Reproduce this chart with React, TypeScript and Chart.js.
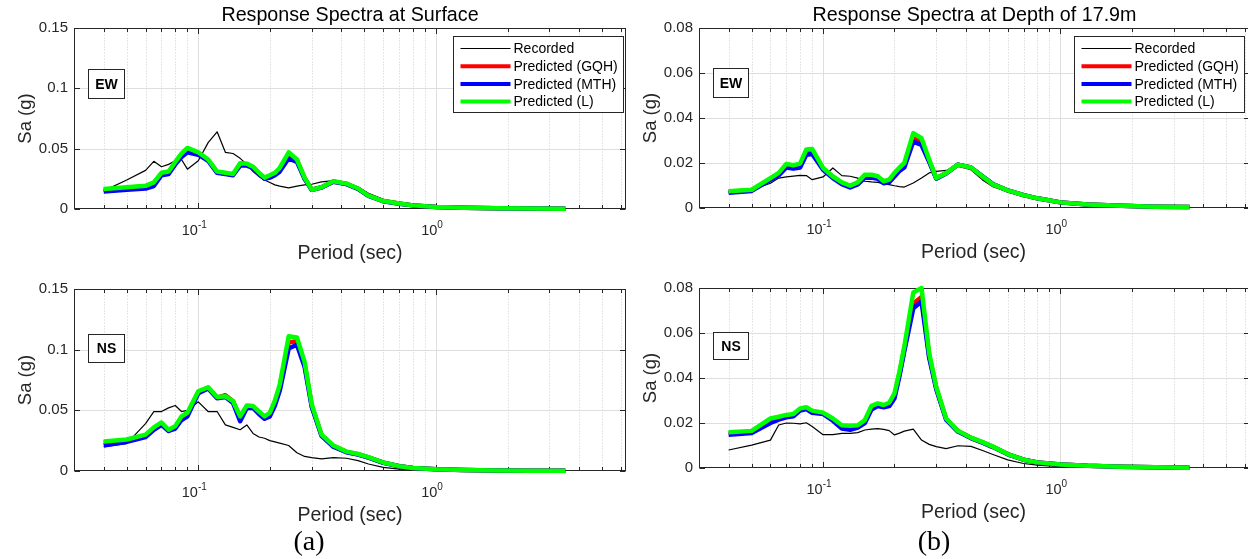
import React, { useEffect, useRef } from 'react';
import { Chart, registerables } from 'chart.js';

Chart.register(...registerables);

// ---------- data ----------
const periods = [0.04, 0.05, 0.06, 0.065, 0.07, 0.075, 0.08, 0.085, 0.09, 0.1, 0.11, 0.12, 0.13, 0.14, 0.15, 0.16, 0.17, 0.18, 0.19, 0.2, 0.21, 0.22, 0.24, 0.26, 0.28, 0.3, 0.33, 0.37, 0.42, 0.47, 0.52, 0.6, 0.7, 0.8, 1.0, 1.3, 1.8, 2.5, 3.5];

const seriesNames = ['Recorded', 'Predicted (GQH)', 'Predicted (MTH)', 'Predicted (L)'];

// Surface, EW
const surfEwRecorded = [0.015, 0.024, 0.032, 0.0395, 0.035, 0.037, 0.040, 0.041, 0.033, 0.040, 0.055, 0.064, 0.047, 0.046, 0.042, 0.037, 0.031, 0.027, 0.024, 0.022, 0.020, 0.019, 0.0175, 0.019, 0.020, 0.0205, 0.0225, 0.0235, 0.022, 0.018, 0.013, 0.008, 0.0048, 0.003, 0.0012, 0.0007, 0.0004, 0.0003, 0.0002];
const surfEwGQH = [0.016, 0.0175, 0.0188, 0.0215, 0.0295, 0.0305, 0.038, 0.045, 0.049, 0.046, 0.0405, 0.0305, 0.0295, 0.0285, 0.0375, 0.037, 0.0345, 0.0295, 0.0255, 0.0275, 0.0295, 0.033, 0.0455, 0.0405, 0.0255, 0.016, 0.018, 0.0228, 0.0208, 0.0168, 0.011, 0.0066, 0.0045, 0.003, 0.0017, 0.0011, 0.0006, 0.0004, 0.0002];
const surfEwMTH = [0.0145, 0.016, 0.017, 0.019, 0.028, 0.029, 0.037, 0.043, 0.047, 0.045, 0.040, 0.030, 0.029, 0.028, 0.036, 0.036, 0.034, 0.029, 0.025, 0.026, 0.028, 0.031, 0.042, 0.039, 0.025, 0.016, 0.0178, 0.0226, 0.0206, 0.0167, 0.0108, 0.0065, 0.0044, 0.003, 0.0017, 0.0011, 0.0006, 0.0004, 0.0002];
const surfEwL = [0.0166, 0.018, 0.0192, 0.022, 0.030, 0.031, 0.039, 0.046, 0.0506, 0.047, 0.041, 0.031, 0.030, 0.029, 0.038, 0.0376, 0.035, 0.030, 0.026, 0.028, 0.030, 0.034, 0.047, 0.041, 0.026, 0.016, 0.018, 0.023, 0.021, 0.017, 0.011, 0.0066, 0.0045, 0.003, 0.0017, 0.0011, 0.0006, 0.0004, 0.0002];

// Surface, NS
const surfNsRecorded = [0.020, 0.0225, 0.039, 0.049, 0.049, 0.052, 0.054, 0.049, 0.050, 0.057, 0.049, 0.049, 0.038, 0.036, 0.034, 0.038, 0.031, 0.028, 0.027, 0.025, 0.024, 0.023, 0.021, 0.015, 0.012, 0.011, 0.010, 0.011, 0.0105, 0.0085, 0.0058, 0.003, 0.0015, 0.001, 0.0006, 0.0004, 0.0003, 0.0002, 0.0001];
const surfNsGQH = [0.0235, 0.0255, 0.029, 0.035, 0.039, 0.0335, 0.036, 0.044, 0.047, 0.065, 0.0685, 0.0605, 0.0625, 0.0575, 0.044, 0.053, 0.053, 0.0485, 0.0445, 0.047, 0.057, 0.069, 0.106, 0.107, 0.088, 0.054, 0.0295, 0.0205, 0.0158, 0.0138, 0.0113, 0.0069, 0.004, 0.0025, 0.0014, 0.0009, 0.0005, 0.0003, 0.0002];
const surfNsMTH = [0.021, 0.024, 0.028, 0.034, 0.038, 0.033, 0.035, 0.042, 0.045, 0.064, 0.068, 0.060, 0.061, 0.056, 0.041, 0.052, 0.052, 0.047, 0.043, 0.045, 0.054, 0.066, 0.101, 0.104, 0.086, 0.053, 0.029, 0.020, 0.0155, 0.0135, 0.011, 0.0068, 0.0039, 0.0024, 0.0014, 0.0009, 0.0005, 0.0003, 0.0002];
const surfNsL = [0.0243, 0.026, 0.030, 0.036, 0.040, 0.034, 0.037, 0.045, 0.048, 0.0657, 0.069, 0.061, 0.0616, 0.0575, 0.045, 0.054, 0.0535, 0.049, 0.045, 0.048, 0.058, 0.071, 0.111, 0.110, 0.090, 0.055, 0.030, 0.021, 0.016, 0.014, 0.0115, 0.007, 0.004, 0.0025, 0.0014, 0.0009, 0.0005, 0.0003, 0.0002];

// Depth 17.9 m, EW
const depthEwRecorded = [0.007, 0.008, 0.011, 0.0133, 0.0138, 0.0142, 0.0145, 0.0144, 0.0126, 0.0138, 0.0178, 0.0144, 0.0141, 0.0133, 0.0119, 0.0116, 0.0114, 0.0108, 0.0104, 0.0099, 0.0095, 0.0093, 0.0111, 0.0133, 0.0156, 0.0163, 0.0167, 0.019, 0.017, 0.0125, 0.0095, 0.0072, 0.0054, 0.004, 0.0024, 0.0015, 0.0009, 0.0005, 0.0003];
const depthEwGQH = [0.0072, 0.0079, 0.013, 0.0152, 0.019, 0.0185, 0.0192, 0.025, 0.0255, 0.0175, 0.0138, 0.0112, 0.0097, 0.0112, 0.0145, 0.0145, 0.0138, 0.0117, 0.0123, 0.015, 0.0172, 0.0192, 0.031, 0.0295, 0.021, 0.0132, 0.0154, 0.0192, 0.0179, 0.014, 0.0105, 0.0078, 0.0057, 0.0043, 0.0025, 0.0016, 0.001, 0.0006, 0.0004];
const depthEwMTH = [0.0068, 0.0076, 0.0125, 0.0145, 0.018, 0.0175, 0.018, 0.0237, 0.024, 0.017, 0.0133, 0.0106, 0.0091, 0.0105, 0.0135, 0.0135, 0.013, 0.011, 0.0115, 0.014, 0.0165, 0.018, 0.0295, 0.028, 0.0205, 0.013, 0.0153, 0.0193, 0.018, 0.0141, 0.0106, 0.0078, 0.0057, 0.0043, 0.0025, 0.0016, 0.001, 0.0006, 0.0004];
const depthEwL = [0.0074, 0.0081, 0.0133, 0.0156, 0.0196, 0.019, 0.0197, 0.026, 0.0262, 0.0178, 0.014, 0.0114, 0.0099, 0.0114, 0.0148, 0.0148, 0.0141, 0.0119, 0.0126, 0.0156, 0.018, 0.020, 0.0333, 0.031, 0.0215, 0.0133, 0.0155, 0.0193, 0.018, 0.014, 0.0105, 0.0078, 0.0057, 0.0043, 0.0025, 0.0016, 0.001, 0.0006, 0.0004];

// Depth 17.9 m, NS
const depthNsRecorded = [0.008, 0.0102, 0.0124, 0.0191, 0.020, 0.0199, 0.0196, 0.0201, 0.0184, 0.0148, 0.0148, 0.0154, 0.0154, 0.0157, 0.0169, 0.0173, 0.0175, 0.0172, 0.0166, 0.0147, 0.0155, 0.0164, 0.0173, 0.0124, 0.0105, 0.0095, 0.0086, 0.0099, 0.0096, 0.0078, 0.006, 0.0036, 0.002, 0.0013, 0.0006, 0.0004, 0.0003, 0.0002, 0.0001];
const depthNsGQH = [0.0155, 0.016, 0.0215, 0.0222, 0.023, 0.0235, 0.026, 0.0265, 0.025, 0.0243, 0.0215, 0.0183, 0.018, 0.0185, 0.0207, 0.027, 0.028, 0.0275, 0.0283, 0.0322, 0.042, 0.053, 0.073, 0.076, 0.050, 0.0355, 0.0218, 0.0164, 0.0134, 0.0114, 0.0094, 0.0062, 0.0037, 0.0025, 0.0016, 0.001, 0.0006, 0.0003, 0.0001];
const depthNsMTH = [0.0148, 0.0155, 0.020, 0.0215, 0.0225, 0.023, 0.0255, 0.0262, 0.0245, 0.024, 0.021, 0.0175, 0.017, 0.018, 0.020, 0.026, 0.0275, 0.027, 0.0275, 0.031, 0.041, 0.052, 0.071, 0.074, 0.049, 0.035, 0.0215, 0.0162, 0.0133, 0.0113, 0.0093, 0.0061, 0.0037, 0.0025, 0.0016, 0.001, 0.0006, 0.0003, 0.0001];
const depthNsL = [0.0159, 0.0165, 0.022, 0.0228, 0.0236, 0.024, 0.0265, 0.027, 0.0255, 0.0246, 0.022, 0.019, 0.0188, 0.019, 0.0213, 0.0276, 0.0287, 0.028, 0.029, 0.0332, 0.043, 0.054, 0.078, 0.080, 0.051, 0.036, 0.022, 0.0165, 0.0135, 0.0115, 0.0095, 0.0062, 0.0037, 0.0025, 0.0016, 0.001, 0.0006, 0.0003, 0.0001];

// axes
const xMin = 0.03;
const xMax = 6.3;
const xMajorTicks = [0.1, 1];
const xMajorExponents = ['-1', '0'];
const xMinorTicks = [0.03, 0.04, 0.05, 0.06, 0.07, 0.08, 0.09, 0.2, 0.3, 0.4, 0.5, 0.6, 0.7, 0.8, 0.9, 2, 3, 4, 5, 6];
const surfaceYTicks = [0, 0.05, 0.1, 0.15];
const surfaceYTickLabels = ['0', '0.05', '0.1', '0.15'];
const depthYTicks = [0, 0.02, 0.04, 0.06, 0.08];
const depthYTickLabels = ['0', '0.02', '0.04', '0.06', '0.08'];

const titleSurface = 'Response Spectra at Surface';
const titleDepth = 'Response Spectra at Depth of 17.9m';
const xAxisTitle = 'Period (sec)';
const yAxisTitle = 'Sa (g)';

// ---------- styles ----------
const FONT = '"Liberation Sans", Arial, Helvetica, sans-serif';
const AXIS_COLOR = '#262626';
const seriesColors = ['#000000', '#ff0000', '#0000ff', '#00ff00'];
const seriesWidths = [1.2, 4.5, 4.5, 4.5];
const seriesOrder = [3, 2, 1, 0];

type PanelCfg = {
  left: number; top: number; w: number; h: number;
  padTop: number; padRight: number; yW: number; xH: number;
  yMax: number; yTicks: number[]; yLabels: string[];
  title?: string; tag: string; tagX: number; tagY: number; tagW: number; tagH: number;
  legend: boolean; legendRight: number; series: number[][];
};

const panels: PanelCfg[] = [
  { left: 0, top: 0, w: 640, h: 270, padTop: 28, padRight: 14, yW: 74, xH: 61, yMax: 0.15, yTicks: surfaceYTicks, yLabels: surfaceYTickLabels, title: titleSurface, tag: 'EW', tagX: 14, tagY: 41, tagW: 36, tagH: 29, legend: true, legendRight: 3, series: [surfEwRecorded, surfEwGQH, surfEwMTH, surfEwL] },
  { left: 624, top: 0, w: 626, h: 270, padTop: 28, padRight: 0, yW: 75, xH: 62, yMax: 0.08, yTicks: depthYTicks, yLabels: depthYTickLabels, title: titleDepth, tag: 'EW', tagX: 14, tagY: 40, tagW: 35, tagH: 29, legend: true, legendRight: 6, series: [depthEwRecorded, depthEwGQH, depthEwMTH, depthEwL] },
  { left: 0, top: 262, w: 640, h: 297, padTop: 27, padRight: 14, yW: 74, xH: 88, yMax: 0.15, yTicks: surfaceYTicks, yLabels: surfaceYTickLabels, tag: 'NS', tagX: 14, tagY: 45, tagW: 36, tagH: 28, legend: false, legendRight: 3, series: [surfNsRecorded, surfNsGQH, surfNsMTH, surfNsL] },
  { left: 624, top: 262, w: 626, h: 297, padTop: 26, padRight: 0, yW: 75, xH: 91, yMax: 0.08, yTicks: depthYTicks, yLabels: depthYTickLabels, tag: 'NS', tagX: 14, tagY: 44, tagW: 35, tagH: 27, legend: false, legendRight: 6, series: [depthNsRecorded, depthNsGQH, depthNsMTH, depthNsL] },
];

function seg(ctx: CanvasRenderingContext2D, x1: number, y1: number, x2: number, y2: number) {
  ctx.beginPath();
  ctx.moveTo(x1, y1);
  ctx.lineTo(x2, y2);
  ctx.stroke();
}

function panelPlugin(p: PanelCfg) {
  return {
    id: 'matlabPanel',
    beforeDatasetsDraw(chart: any) {
      const { ctx, chartArea: a } = chart;
      const xs = chart.scales.x;
      const ys = chart.scales.y;
      const L = Math.round(a.left) + 0.5;
      const R = Math.round(a.right) - 0.5;
      const T = Math.round(a.top) + 0.5;
      const B = Math.round(a.bottom) - 0.5;
      ctx.save();
      ctx.lineWidth = 1;
      // minor x grid (dotted)
      ctx.strokeStyle = '#cccccc';
      ctx.setLineDash([1, 2]);
      for (const v of xMinorTicks) {
        const x = Math.round(xs.getPixelForValue(v)) + 0.5;
        if (x <= L + 1 || x >= R - 1) continue;
        seg(ctx, x, T, x, B);
      }
      ctx.setLineDash([]);
      // major grid (solid)
      ctx.strokeStyle = '#dedede';
      for (const v of xMajorTicks) {
        const x = Math.round(xs.getPixelForValue(v)) + 0.5;
        seg(ctx, x, T, x, B);
      }
      for (const v of p.yTicks) {
        const y = Math.round(ys.getPixelForValue(v)) + 0.5;
        if (y <= T + 1 || y >= B - 1) continue;
        seg(ctx, L, y, R, y);
      }
      // ticks (inside)
      ctx.strokeStyle = AXIS_COLOR;
      for (const v of xMinorTicks) {
        const x = Math.round(xs.getPixelForValue(v)) + 0.5;
        if (x <= L + 1 || x >= R - 1) continue;
        seg(ctx, x, B, x, B - 3.5);
        seg(ctx, x, T, x, T + 3.5);
      }
      for (const v of xMajorTicks) {
        const x = Math.round(xs.getPixelForValue(v)) + 0.5;
        seg(ctx, x, B, x, B - 5.5);
        seg(ctx, x, T, x, T + 5.5);
      }
      for (const v of p.yTicks) {
        const y = Math.round(ys.getPixelForValue(v)) + 0.5;
        seg(ctx, L, y, L + 5.5, y);
        seg(ctx, R, y, R - 5.5, y);
      }
      // box
      ctx.strokeRect(L, T, R - L, B - T);
      ctx.restore();
    },
    afterDatasetsDraw(chart: any) {
      const { ctx, chartArea: a } = chart;
      const xs = chart.scales.x;
      ctx.save();
      ctx.fillStyle = AXIS_COLOR;
      // x tick labels 10^n
      for (let i = 0; i < xMajorTicks.length; i++) {
        const px = xs.getPixelForValue(xMajorTicks[i]);
        ctx.font = `14.5px ${FONT}`;
        const wb = ctx.measureText('10').width;
        ctx.font = `10px ${FONT}`;
        const we = ctx.measureText(xMajorExponents[i]).width;
        const x0 = px - 4 - (wb + we) / 2;
        ctx.textAlign = 'left';
        ctx.textBaseline = 'alphabetic';
        ctx.font = `14.5px ${FONT}`;
        ctx.fillText('10', x0, a.bottom + 26);
        ctx.font = `10px ${FONT}`;
        ctx.fillText(xMajorExponents[i], x0 + wb, a.bottom + 19);
      }
      // axis titles
      ctx.font = `19.5px ${FONT}`;
      ctx.textAlign = 'center';
      ctx.textBaseline = 'alphabetic';
      ctx.fillText(xAxisTitle, (a.left + a.right) / 2 - (p.legendRight > 3 ? 1 : 0), a.bottom + 50);
      ctx.save();
      ctx.translate(a.left - 43, (a.top + a.bottom) / 2);
      ctx.rotate(-Math.PI / 2);
      ctx.font = `18.5px ${FONT}`;
      ctx.fillText(yAxisTitle, 0, 0);
      ctx.restore();
      // title
      if (p.title) {
        ctx.fillStyle = '#000000';
        ctx.font = `19.7px ${FONT}`;
        ctx.textAlign = 'center';
        ctx.fillText(p.title, (a.left + a.right) / 2, a.top - 7);
      }
      // component tag box
      const bx = Math.round(a.left + p.tagX) + 0.5;
      const by = Math.round(a.top + p.tagY) + 0.5;
      ctx.fillStyle = '#ffffff';
      ctx.fillRect(bx, by, p.tagW, p.tagH);
      ctx.strokeStyle = AXIS_COLOR;
      ctx.lineWidth = 1;
      ctx.strokeRect(bx, by, p.tagW, p.tagH);
      ctx.fillStyle = '#000000';
      ctx.font = `bold 14px ${FONT}`;
      ctx.textAlign = 'center';
      ctx.textBaseline = 'middle';
      ctx.fillText(p.tag, bx + p.tagW / 2, by + p.tagH / 2 + 1);
      // legend
      if (p.legend) {
        const lw = 170;
        const lh = 76;
        const lx = Math.round(a.right - p.legendRight - lw) + 0.5;
        const ly = Math.round(a.top + 8) + 0.5;
        ctx.fillStyle = '#ffffff';
        ctx.fillRect(lx, ly, lw, lh);
        ctx.strokeStyle = AXIS_COLOR;
        ctx.strokeRect(lx, ly, lw, lh);
        ctx.font = `14px ${FONT}`;
        ctx.textAlign = 'left';
        ctx.textBaseline = 'middle';
        for (let i = 0; i < seriesNames.length; i++) {
          const ry = ly + 12 + i * 17.7;
          ctx.strokeStyle = seriesColors[i];
          ctx.lineWidth = i === 0 ? 1.2 : 4;
          seg(ctx, lx + 7, ry, lx + 57, ry);
          ctx.fillStyle = '#000000';
          ctx.fillText(seriesNames[i], lx + 60, ry + 1);
        }
      }
      ctx.restore();
    },
  };
}

function Panel({ cfg }: { cfg: PanelCfg }) {
  const ref = useRef<HTMLCanvasElement>(null);
  useEffect(() => {
    const datasets = cfg.series.map((vals, i) => ({
      label: seriesNames[i],
      data: periods.map((t, k) => ({ x: t, y: vals[k] })),
      borderColor: seriesColors[i],
      backgroundColor: seriesColors[i],
      borderWidth: seriesWidths[i],
      pointRadius: 0,
      tension: 0,
      fill: false,
      clip: false as any,
      order: seriesOrder[i],
      borderJoinStyle: 'round' as const,
    }));
    const chart = new Chart(ref.current!, {
      type: 'line',
      data: { datasets },
      options: {
        responsive: false,
        animation: false,
        devicePixelRatio: 1,
        events: [],
        layout: { padding: { left: 0, top: cfg.padTop, right: cfg.padRight, bottom: 0 } },
        plugins: { legend: { display: false }, tooltip: { enabled: false }, title: { display: false } },
        scales: {
          x: {
            type: 'logarithmic',
            min: xMin,
            max: xMax,
            grid: { display: false, drawTicks: false },
            border: { display: false },
            ticks: { display: false },
            afterFit: (s: any) => { s.height = cfg.xH; },
          },
          y: {
            type: 'linear',
            min: 0,
            max: cfg.yMax,
            grid: { display: false, drawTicks: false },
            border: { display: false },
            ticks: {
              padding: 6,
              color: AXIS_COLOR,
              font: { family: FONT, size: 15 },
              callback: (_v: any, i: number) => cfg.yLabels[i],
            },
            afterBuildTicks: (s: any) => { s.ticks = cfg.yTicks.map((v) => ({ value: v })); },
            afterFit: (s: any) => { s.width = cfg.yW; },
          },
        },
      },
      plugins: [panelPlugin(cfg)],
    } as any);
    return () => chart.destroy();
  }, []);
  return (
    <canvas
      ref={ref}
      width={cfg.w}
      height={cfg.h}
      style={{ position: 'absolute', left: cfg.left, top: cfg.top, width: cfg.w, height: cfg.h }}
    />
  );
}

export default function App() {
  const capStyle: React.CSSProperties = {
    position: 'absolute',
    top: 527,
    fontFamily: '"Liberation Serif", "Times New Roman", serif',
    fontSize: 28,
    lineHeight: '28px',
    color: '#000',
    transform: 'translateX(-50%)',
    whiteSpace: 'nowrap',
  };
  return (
    <div style={{ position: 'fixed', left: 0, top: 0, width: 1248, height: 559, overflow: 'hidden', background: '#fff' }}>
      {panels.map((p, i) => <Panel key={i} cfg={p} />)}
      <div style={{ ...capStyle, left: 309 }}>(a)</div>
      <div style={{ ...capStyle, left: 934 }}>(b)</div>
    </div>
  );
}
